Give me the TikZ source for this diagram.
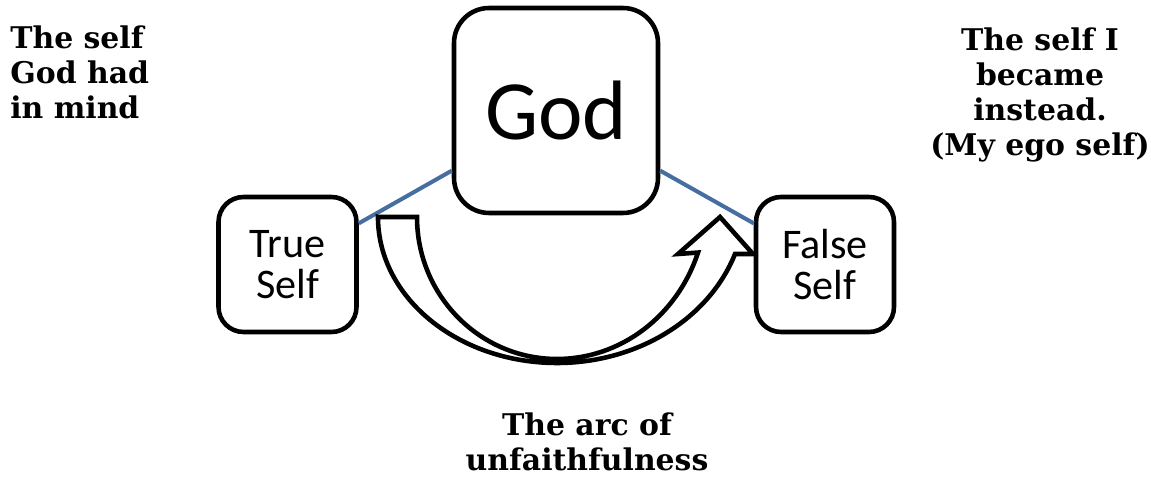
\documentclass[tikz,border=0pt]{standalone}
\usepackage{fontspec}
\setsansfont{Carlito}
\newfontfamily\notefont{DejaVu Serif}

\definecolor{linkblue}{RGB}{70,110,160}

\begin{document}
\begin{tikzpicture}[x=0.02cm,y=0.02cm]

  \useasboundingbox (0,0) rectangle (1151,477);

  \tikzset{
    selfbox/.style={draw,line width=2.6pt,rounded corners=0.5cm,inner sep=0pt,
      minimum width=2.76cm,minimum height=2.7cm,align=center,
      font=\sffamily\fontsize{24}{23}\selectfont},
    godbox/.style={selfbox,minimum width=4.08cm,minimum height=4.1cm,
      rounded corners=0.7cm,font=\sffamily\fontsize{48}{48}\selectfont},
    note/.style={inner sep=0pt,font=\notefont\bfseries\fontsize{17}{20}\selectfont}
  }

  \def\turnarrow{(378,260) -- (417,260)
    arc[start angle=180,end angle=270,x radius=140,y radius=142]
    arc[start angle=270,end angle=340.7,x radius=149.4,y radius=159]
    -- (678,223) -- (720,260) -- (753,223) -- (735,223)
    arc[start angle=340.9,end angle=270,x radius=188.4,y radius=162]
    arc[start angle=270,end angle=180,x radius=179,y radius=146] -- cycle}

  \node[godbox] (god) at (556,366.5) {God};
  \node[selfbox] (true) at (287.5,212.5) {True\\Self};
  \node[selfbox] (false) at (825,212.5) {False\\Self};

  \draw[linkblue,line width=2.3pt] (true.30) -- (god.210);
  \draw[linkblue,line width=2.3pt] (god.330) -- (false.150);

  \draw[line width=2.6pt,fill=white] \turnarrow;

  \node[note,anchor=north west,align=left] (intended) at (10,452) {The self\\God had\\in mind};
  \node[note,anchor=north,align=center] (ego) at (1040,450) {The self I\\became\\instead.\\(My ego self)};
  \node[note,anchor=north,align=center] (arc) at (587,65) {The arc of\\unfaithfulness};

\end{tikzpicture}
\end{document}
